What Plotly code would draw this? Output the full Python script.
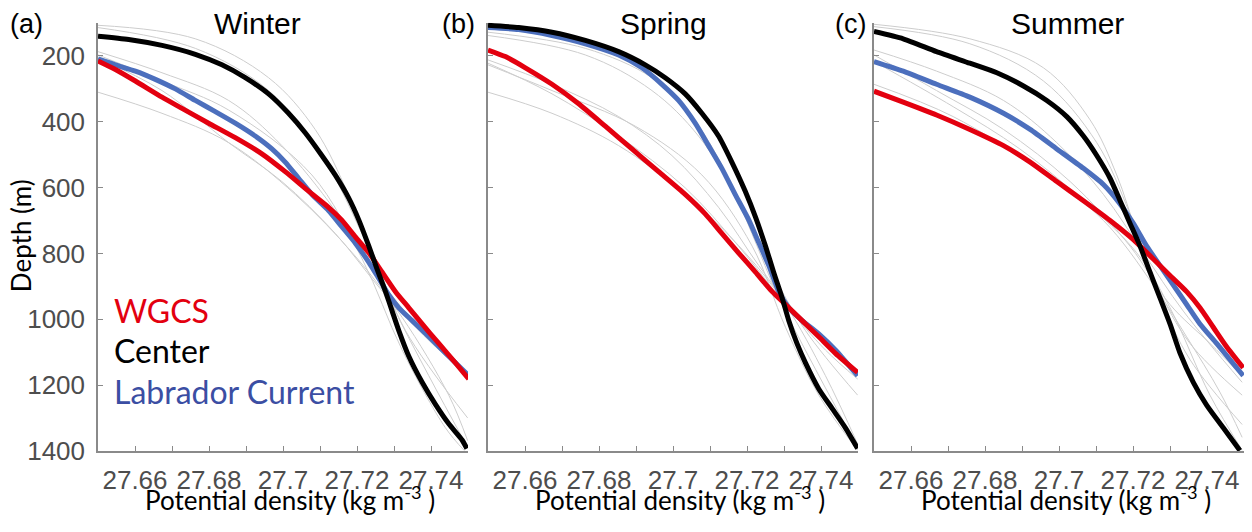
import plotly.graph_objects as go

# ---------------------------------------------------------------- data
seasons = ["Winter", "Spring", "Summer"]
panel_tags = ["(a)", "(b)", "(c)"]

# Winter mean profiles: potential density (kg m-3) vs depth (m)
winter_wgcs_sigma = [27.65, 27.6547, 27.6601, 27.6673, 27.6727, 27.6799, 27.6871, 27.6943, 27.7006, 27.7069,
                     27.7123, 27.7159, 27.7195, 27.7232, 27.7268, 27.7304, 27.734, 27.7376, 27.7421, 27.7466, 27.7502]
winter_wgcs_depth = [216, 242, 277, 326, 360, 405, 449, 498, 552, 611,
                     660, 699, 749, 798, 857, 916, 965, 1014, 1073, 1132, 1181]
winter_center_sigma = [27.65, 27.6583, 27.6673, 27.6763, 27.6835, 27.6898, 27.6961, 27.7015, 27.706, 27.7105,
                       27.7141, 27.7177, 27.7205, 27.7232, 27.7254, 27.7277, 27.7295, 27.7313, 27.734, 27.7376,
                       27.7412, 27.7448, 27.7484, 27.7497]
winter_center_depth = [141, 151, 169, 196, 228, 267, 316, 375, 434, 503,
                       562, 631, 699, 778, 847, 916, 975, 1034, 1112, 1191,
                       1258, 1317, 1366, 1392]
winter_lab_sigma = [27.65, 27.6547, 27.6601, 27.6655, 27.6709, 27.6763, 27.6817, 27.6871, 27.6925, 27.697,
                    27.7006, 27.7042, 27.7078, 27.7123, 27.7159, 27.7195, 27.7232, 27.7259, 27.7286, 27.7313,
                    27.7349, 27.7394, 27.7439, 27.7502]
winter_lab_depth = [210, 228, 247, 272, 301, 336, 370, 405, 444, 483,
                    523, 572, 621, 670, 719, 768, 827, 876, 926, 965,
                    1004, 1053, 1102, 1171]

# Spring mean profiles
spring_wgcs_sigma = [27.65, 27.6547, 27.6601, 27.6673, 27.6745, 27.6817, 27.6889, 27.6961, 27.7033, 27.7087,
                     27.7132, 27.7177, 27.7223, 27.7268, 27.7304, 27.7349, 27.7394, 27.7439, 27.7499]
spring_wgcs_depth = [183, 203, 237, 287, 346, 414, 483, 552, 621, 680,
                     739, 798, 857, 916, 955, 1004, 1053, 1103, 1161]
spring_center_sigma = [27.65, 27.6583, 27.6673, 27.6763, 27.6853, 27.6925, 27.6979, 27.7033, 27.7078, 27.7123,
                       27.7159, 27.7195, 27.7223, 27.725, 27.7272, 27.7295, 27.7313, 27.7335, 27.7358, 27.7394,
                       27.743, 27.7466, 27.7499]
spring_center_depth = [108, 115, 129, 154, 188, 228, 267, 316, 375, 444,
                       523, 611, 690, 778, 857, 935, 1004, 1073, 1132, 1211,
                       1270, 1329, 1392]
spring_lab_sigma = [27.65, 27.6583, 27.6673, 27.6763, 27.6853, 27.6916, 27.697, 27.7015, 27.706, 27.7096,
                    27.7132, 27.7168, 27.7205, 27.7232, 27.7259, 27.7286, 27.7313, 27.7349, 27.7394, 27.7439,
                    27.7499]
spring_lab_depth = [115, 121, 139, 164, 198, 237, 287, 336, 405, 473,
                    542, 621, 699, 768, 837, 916, 965, 1004, 1044, 1093,
                    1171]

# Summer mean profiles
summer_wgcs_sigma = [27.65, 27.6579, 27.6669, 27.6759, 27.685, 27.6922, 27.6994, 27.7066, 27.7138, 27.7201,
                     27.7255, 27.73, 27.7345, 27.7381, 27.7417, 27.7453, 27.7498]
summer_wgcs_depth = [308, 341, 380, 424, 473, 523, 582, 640, 700, 758,
                     817, 867, 916, 965, 1024, 1083, 1147]
summer_center_sigma = [27.65, 27.6579, 27.6669, 27.6759, 27.6832, 27.6904, 27.6967, 27.7021, 27.7066, 27.7102,
                       27.7138, 27.7165, 27.7192, 27.7219, 27.7246, 27.7273, 27.73, 27.7327, 27.7363, 27.7399,
                       27.7444, 27.7489]
summer_center_depth = [127, 149, 188, 223, 252, 292, 336, 385, 444, 503,
                       572, 640, 709, 778, 857, 935, 1014, 1102, 1191, 1260,
                       1329, 1398]
summer_lab_sigma = [27.65, 27.6579, 27.6669, 27.6759, 27.685, 27.6922, 27.6994, 27.7066, 27.712, 27.7165,
                    27.7201, 27.7237, 27.7273, 27.7309, 27.7345, 27.7381, 27.7426, 27.7462, 27.7498]
summer_lab_depth = [218, 247, 287, 326, 375, 424, 483, 542, 591, 650,
                    709, 778, 837, 896, 955, 1014, 1073, 1122, 1171]

# Individual profiles (thin grey lines)
winter_gray_sigma = [
    [27.650, 27.6763, 27.6961, 27.7087, 27.7177, 27.7250, 27.7331, 27.7499],
    [27.650, 27.6763, 27.6961, 27.7105, 27.7213, 27.7295, 27.7394, 27.7499],
    [27.650, 27.6673, 27.6853, 27.6997, 27.7141, 27.7259, 27.7376, 27.7499],
    [27.650, 27.6673, 27.6853, 27.6997, 27.7141, 27.7277, 27.7412, 27.7499],
    [27.650, 27.6673, 27.6853, 27.7033, 27.7195, 27.7322, 27.7448, 27.7499],
    [27.650, 27.6673, 27.6853, 27.7078, 27.7214, 27.7322, 27.7439, 27.7490],
]
winter_gray_depth = [
    [108, 149, 267, 424, 621, 817, 1034, 1299],
    [115, 178, 306, 503, 739, 955, 1171, 1388],
    [188, 252, 336, 473, 670, 876, 1034, 1161],
    [208, 306, 464, 582, 739, 926, 1083, 1171],
    [311, 375, 464, 621, 808, 994, 1230, 1368],
    [198, 277, 365, 562, 817, 1093, 1329, 1398],
]
spring_gray_sigma = [
    [27.650, 27.6763, 27.6943, 27.7051, 27.7141, 27.7213, 27.7286, 27.7376, 27.7499],
    [27.650, 27.6763, 27.6943, 27.7069, 27.7177, 27.7268, 27.7358, 27.7499],
    [27.650, 27.6673, 27.6853, 27.6997, 27.7123, 27.7232, 27.7340, 27.7499],
    [27.650, 27.6673, 27.6853, 27.7033, 27.7177, 27.7304, 27.7412, 27.7499],
    [27.650, 27.6673, 27.6853, 27.7033, 27.7195, 27.7304, 27.7412, 27.7499],
    [27.650, 27.6673, 27.6898, 27.7078, 27.7214, 27.7304, 27.7394, 27.7499],
]
spring_gray_depth = [
    [129, 178, 267, 385, 552, 739, 935, 1132, 1388],
    [139, 198, 306, 444, 640, 857, 1034, 1230],
    [213, 287, 385, 503, 660, 837, 994, 1161],
    [223, 316, 444, 601, 778, 955, 1093, 1181],
    [311, 375, 473, 621, 798, 955, 1171, 1378],
    [228, 306, 414, 562, 778, 1024, 1230, 1397],
]
summer_gray_sigma = [
    [27.650, 27.6759, 27.6958, 27.7084, 27.7156, 27.7210, 27.7273, 27.7354, 27.7495],
    [27.650, 27.6759, 27.6958, 27.7102, 27.7192, 27.7264, 27.7354, 27.7495],
    [27.650, 27.6669, 27.6850, 27.6994, 27.7120, 27.7228, 27.7336, 27.7495],
    [27.650, 27.6669, 27.6850, 27.7030, 27.7192, 27.7300, 27.7408, 27.7495],
    [27.650, 27.6714, 27.6894, 27.7066, 27.7210, 27.7300, 27.7408, 27.7495],
    [27.650, 27.6714, 27.6940, 27.7120, 27.7255, 27.7345, 27.7435, 27.7495],
]
summer_gray_depth = [
    [105, 149, 237, 395, 562, 739, 935, 1122, 1319],
    [112, 164, 277, 464, 680, 896, 1073, 1230],
    [183, 247, 336, 464, 621, 798, 975, 1191],
    [198, 306, 424, 582, 778, 955, 1073, 1171],
    [218, 355, 483, 640, 798, 965, 1230, 1397],
    [287, 385, 542, 700, 896, 1053, 1221, 1358],
]

# axis ticks
sigma_ticks = [27.66, 27.68, 27.70, 27.72, 27.74]
sigma_ticktext = ["27.66", "27.68", "27.7", "27.72", "27.74"]
depth_ticks = [200, 400, 600, 800, 1000, 1200, 1400]
depth_ticktext = ["200", "400", "600", "800", "1000", "1200", "1400"]

legend_labels = ["WGCS", "Center", "Labrador Current"]

# ---------------------------------------------------------------- style
RED = "#e3000f"
BLACK = "#000000"
BLUE = "#4c6fbd"
BLUE_TEXT = "#3b4ea3"
GRAY = "#cdcdcd"
AXIS_GRAY = "#8a8a8a"
TICK_GRAY = "#4d4d4d"
HELV = "Liberation Sans, Arial, Helvetica, sans-serif"
HUMANIST = "Lato, Open Sans, sans-serif"

W, H = 1252, 532
x_px = [(98, 468), (488, 858), (874, 1244)]
y_top_px, y_bot_px = 23.3, 464.3

fig = go.Figure()

panels = [
    (winter_gray_sigma, winter_gray_depth,
     (winter_wgcs_sigma, winter_wgcs_depth), (winter_center_sigma, winter_center_depth),
     (winter_lab_sigma, winter_lab_depth)),
    (spring_gray_sigma, spring_gray_depth,
     (spring_wgcs_sigma, spring_wgcs_depth), (spring_center_sigma, spring_center_depth),
     (spring_lab_sigma, spring_lab_depth)),
    (summer_gray_sigma, summer_gray_depth,
     (summer_wgcs_sigma, summer_wgcs_depth), (summer_center_sigma, summer_center_depth),
     (summer_lab_sigma, summer_lab_depth)),
]

for i, (gs, gd, wgcs, center, lab) in enumerate(panels):
    xa = "x" if i == 0 else f"x{i + 1}"
    ya = "y" if i == 0 else f"y{i + 1}"
    for s, d in zip(gs, gd):
        fig.add_trace(go.Scatter(x=s, y=d, mode="lines", xaxis=xa, yaxis=ya,
                                 line=dict(color=GRAY, width=1, shape="spline", smoothing=1.0),
                                 hoverinfo="skip", showlegend=False))
    for (s, d), col, name in [(lab, BLUE, legend_labels[2]), (wgcs, RED, legend_labels[0]),
                              (center, BLACK, legend_labels[1])]:
        fig.add_trace(go.Scatter(x=s, y=d, mode="lines", xaxis=xa, yaxis=ya, name=name,
                                 line=dict(color=col, width=5, shape="spline", smoothing=0.6),
                                 showlegend=False))

    x0, x1 = x_px[i]
    xkey = "xaxis" if i == 0 else f"xaxis{i + 1}"
    ykey = "yaxis" if i == 0 else f"yaxis{i + 1}"
    fig.layout[xkey] = dict(
        domain=[x0 / W, x1 / W], range=[27.65, 27.75], anchor=ya,
        showgrid=False, zeroline=False, showline=True, linecolor=AXIS_GRAY, linewidth=1.5,
        ticks="inside", ticklen=5, tickcolor=AXIS_GRAY, tickwidth=1,
        tickvals=sigma_ticks, ticktext=sigma_ticktext,
        tickfont=dict(family=HELV, size=26, color=TICK_GRAY),
        ticklabelstandoff=5,
        minor=dict(dtick=0.01, tick0=27.65, ticks="inside", ticklen=5, tickcolor=AXIS_GRAY),
    )
    fig.layout[ykey] = dict(
        domain=[1 - y_bot_px / H, 1 - y_top_px / H], range=[1400, 100], anchor=xa,
        showgrid=False, zeroline=False, showline=True, linecolor=AXIS_GRAY, linewidth=1.5,
        ticks="inside", ticklen=5, tickcolor=AXIS_GRAY, tickwidth=1,
        tickvals=depth_ticks, ticktext=depth_ticktext, showticklabels=(i == 0),
        tickfont=dict(family=HELV, size=26, color=TICK_GRAY),
        ticklabelstandoff=6,
    )

annotations = []
title_x = [257, 663, 1067]
tag_x = [26, 458, 850]
for i in range(3):
    annotations.append(dict(text=seasons[i], x=title_x[i] / W, y=1 - 24 / H, xref="paper", yref="paper",
                            showarrow=False, xanchor="center", yanchor="middle",
                            font=dict(family=HELV, size=30, color="#000")))
    annotations.append(dict(text=panel_tags[i], x=tag_x[i] / W, y=1 - 25 / H, xref="paper", yref="paper",
                            showarrow=False, xanchor="center", yanchor="middle",
                            font=dict(family=HELV, size=27, color="#000")))
    cx = (x_px[i][0] + x_px[i][1]) / 2 + 7
    annotations.append(dict(text="Potential density (kg m<sup>-3</sup> )", x=cx / W, y=0,
                            xref="paper", yref="paper", showarrow=False,
                            xanchor="center", yanchor="bottom", borderpad=0,
                            font=dict(family=HUMANIST, size=26, color="#000")))

annotations.append(dict(text="Depth (m)", x=21 / W, y=1 - 243 / H, xref="paper", yref="paper",
                        showarrow=False, textangle=-90, xanchor="center", yanchor="middle",
                        font=dict(family=HUMANIST, size=26, color="#000")))

legend_y = [320, 361, 403]
legend_colors = [RED, BLACK, BLUE_TEXT]
for lbl, ly, col in zip(legend_labels, legend_y, legend_colors):
    annotations.append(dict(text=lbl, x=112 / W, y=1 - ly / H, xref="paper", yref="paper",
                            showarrow=False, xanchor="left", yanchor="middle",
                            font=dict(family=HUMANIST, size=32, color=col)))

fig.update_layout(
    width=W, height=H, autosize=False, margin=dict(l=0, r=0, t=0, b=0, pad=0),
    paper_bgcolor="white", plot_bgcolor="white",
    annotations=annotations, showlegend=False,
)

fig.write_html("out.html")
